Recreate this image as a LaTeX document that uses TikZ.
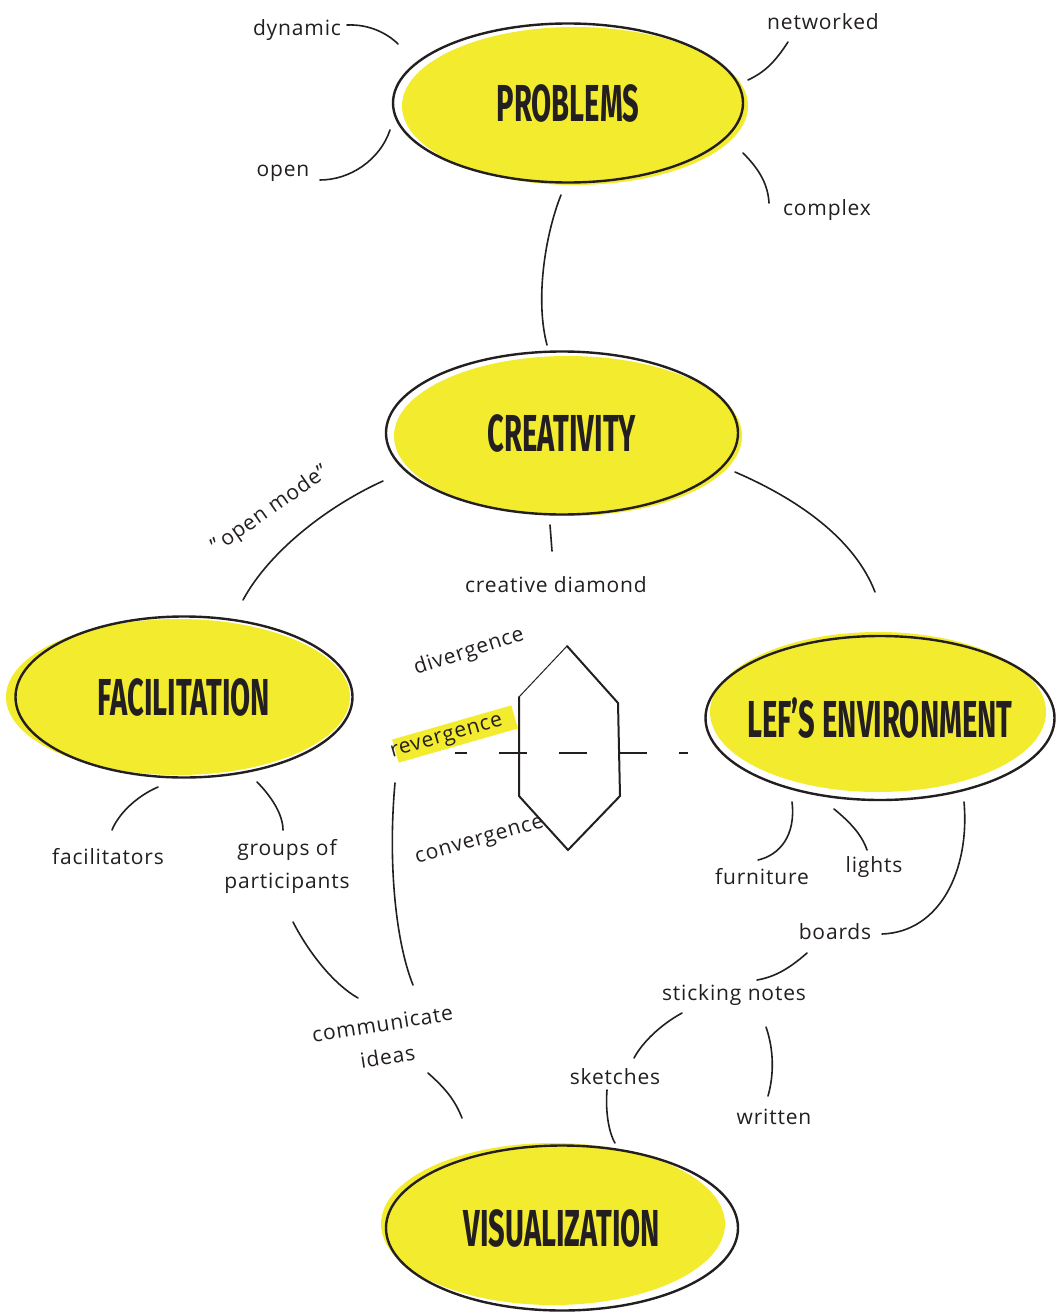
\documentclass[tikz,border=0pt]{standalone}
\usepackage{fontspec}
\usetikzlibrary{shapes.geometric}
\newfontfamily\titlefont{Fira Sans}[FakeStretch=0.56]
\newfontfamily\handfont{Open Sans}[LetterSpace=4]
\definecolor{ink}{RGB}{35,31,32}
\definecolor{marker}{RGB}{243,235,45}
\newcommand{\bubbletext}[1]{\makebox[0pt]{#1}}
\begin{document}
\begin{tikzpicture}[x=1pt,y=-1pt,
  bubble/.style={ellipse, draw=ink, line width=2.4pt, inner sep=0pt,
    text=ink, font=\titlefont\bfseries\fontsize{52}{52}\selectfont},
  note/.style={text=ink, inner sep=0pt, align=center,
    font=\handfont\fontsize{21}{33}\selectfont},
  stroke/.style={draw=ink, line width=1.6pt, line cap=round},
  dashline/.style={draw=ink, line width=1.3pt, dash pattern=on 28pt off 32pt, dash phase=16pt}]

\useasboundingbox (0,0) rectangle (1060,1313);
\fill[white] (0,0) rectangle (1060,1313);

% marker fills, slightly off the outlines
\fill[marker] (575,106) ellipse [x radius=173, y radius=79];
\fill[marker] (568,436) ellipse [x radius=174, y radius=80];
\fill[marker] (178,697) ellipse [x radius=172, y radius=78];
\fill[marker] (878,712) ellipse [x radius=168, y radius=80];
\fill[marker] (553,1224) ellipse [x radius=172, y radius=81];

% main topics
\node[bubble, minimum width=350pt, minimum height=159pt] (prob) at (568,103) {\bubbletext{PROBLEMS}};
\node[bubble, minimum width=352pt, minimum height=163pt] (crea) at (562,433) {\bubbletext{CREATIVITY}};
\node[bubble, minimum width=337pt, minimum height=161pt] (faci) at (184,697) {\bubbletext{FACILITATION}};
\node[bubble, minimum width=349pt, minimum height=164pt] (envi) at (880,718) {\bubbletext{LEF’S ENVIRONMENT}};
\node[bubble, minimum width=352pt, minimum height=165pt] (visu) at (562,1228) {\bubbletext{VISUALIZATION}};

% labels
\node[note] (dyn)  at (297,30)  {dynamic};
\node[note] (open) at (283,173) {open};
\node[note] (net)  at (823,22)  {networked};
\node[note] (cplx) at (827,210) {complex};
\node[note, rotate=35] (omode) at (270,510) {”\,open mode”};
\node[note] (cdia) at (556,585) {creative diamond};
\node[note, rotate=18] (div) at (469,652) {divergence};
\node[note, rotate=16] (conv) at (480,842) {convergence};
\node[note] (fac)  at (108,857) {facilitators};
\node[note] (grp)  at (287,866) {groups of\\participants};
\node[note, rotate=9] (comm) at (385,1040) {communicate\\ideas};
\node[note] (furn) at (762,877) {furniture};
\node[note] (lite) at (874,867) {lights};
\node[note] (brd)  at (835,932) {boards};
\node[note] (stick) at (734,995) {sticking notes};
\node[note] (sket) at (615,1077) {sketches};
\node[note] (writ) at (774,1117) {written};

% highlighted label
\fill[marker, rotate around={16:(455,734)}] (393,722) rectangle (517,746);
\node[note, rotate=16] (rev) at (447,738) {revergence};

% connector ends
\coordinate (dynA) at (347,25);   \coordinate (dynB) at (398,44);
\coordinate (opA)  at (390,130);  \coordinate (opB)  at (320,180);
\coordinate (netA) at (788,42);   \coordinate (netB) at (748,80);
\coordinate (cpA)  at (743,153);  \coordinate (cpB)  at (769,203);
\coordinate (pcA)  at (561,195);  \coordinate (pcB)  at (547,345);
\coordinate (cfA)  at (383,481);  \coordinate (cfB)  at (243,600);
\coordinate (ceA)  at (735,472);  \coordinate (ceB)  at (875,592);
\coordinate (cdA)  at (550,525);  \coordinate (cdB)  at (552,551);
\coordinate (vA)   at (395,783);  \coordinate (vB)   at (413,985);
\coordinate (faA)  at (158,787);  \coordinate (faB)  at (112,830);
\coordinate (grA)  at (257,782);  \coordinate (grB)  at (283,830);
\coordinate (paA)  at (293,922);  \coordinate (paB)  at (358,998);
\coordinate (ciA)  at (428,1073); \coordinate (ciB)  at (462,1118);
\coordinate (fuA)  at (792,802);  \coordinate (fuB)  at (758,860);
\coordinate (liA)  at (834,809);  \coordinate (liB)  at (867,850);
\coordinate (boA)  at (964,802);  \coordinate (boB)  at (882,934);
\coordinate (bsA)  at (807,953);  \coordinate (bsB)  at (757,980);
\coordinate (skA)  at (682,1013); \coordinate (skB)  at (634,1058);
\coordinate (wrA)  at (766,1027); \coordinate (wrB)  at (768,1096);
\coordinate (svA)  at (607,1090); \coordinate (svB)  at (615,1143);

% connectors
\draw[stroke] (dynA) .. controls (370,24) and (388,34) .. (dynB);
\draw[stroke] (opA) .. controls (380,160) and (350,180) .. (opB);
\draw[stroke] (netA) .. controls (775,62) and (765,72) .. (netB);
\draw[stroke] (cpA) .. controls (760,170) and (768,185) .. (cpB);
\draw[stroke] (pcA) .. controls (545,235) and (535,300) .. (pcB);
\draw[stroke] (cfA) .. controls (330,505) and (270,550) .. (cfB);
\draw[stroke] (ceA) .. controls (800,500) and (855,540) .. (ceB);
\draw[stroke] (cdA) -- (cdB);
\draw[stroke] (vA) .. controls (388,860) and (395,940) .. (vB);
\draw[stroke] (faA) .. controls (135,797) and (118,815) .. (faB);
\draw[stroke] (grA) .. controls (272,797) and (283,815) .. (grB);
\draw[stroke] (paA) .. controls (310,955) and (335,985) .. (paB);
\draw[stroke] (ciA) .. controls (445,1088) and (455,1100) .. (ciB);
\draw[stroke] (fuA) .. controls (796,835) and (780,855) .. (fuB);
\draw[stroke] (liA) .. controls (850,822) and (862,835) .. (liB);
\draw[stroke] (boA) .. controls (970,870) and (940,932) .. (boB);
\draw[stroke] (bsA) .. controls (790,968) and (775,977) .. (bsB);
\draw[stroke] (skA) .. controls (660,1025) and (642,1043) .. (skB);
\draw[stroke] (wrA) .. controls (774,1050) and (774,1075) .. (wrB);
\draw[stroke] (svA) .. controls (605,1115) and (610,1135) .. (svB);

% creative diamond
\coordinate (hT)  at (567,646);
\coordinate (hUL) at (519,697);
\coordinate (hLL) at (519,796);
\coordinate (hB)  at (568,850);
\coordinate (hLR) at (620,796);
\coordinate (hUR) at (618,703);
\draw[stroke, line width=1pt] (hT) -- (hUL);
\draw[stroke, line width=2pt, line join=round] (hUL) -- (hLL) -- (hB) -- (hLR) -- (hUR) -- (hT);
\coordinate (dashA) at (455,753);
\coordinate (dashB) at (688,753);
\draw[dashline] (dashA) -- (dashB);
\end{tikzpicture}
\end{document}
